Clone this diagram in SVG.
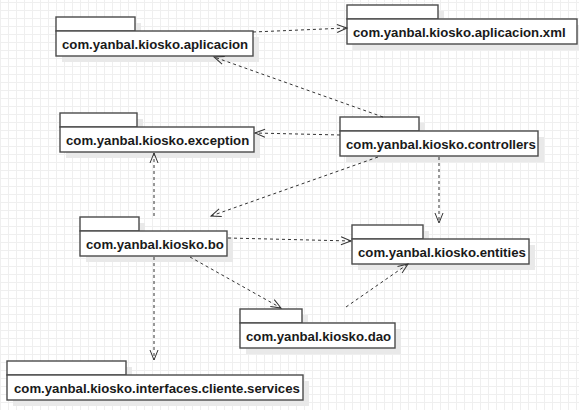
<svg xmlns="http://www.w3.org/2000/svg" width="579" height="410" viewBox="0 0 579 410">
<defs>
<pattern id="grid" width="8" height="8" patternUnits="userSpaceOnUse" x="0" y="2">
<rect width="8" height="8" fill="#ffffff"/>
<path d="M0.5,0 V8 M0,0.5 H8" stroke="#efefef" stroke-width="1" fill="none"/>
</pattern>
<marker id="open" markerUnits="userSpaceOnUse" markerWidth="12" markerHeight="10" refX="10" refY="4" orient="auto" overflow="visible">
<path d="M0,0 L10,4 L0,8" fill="none" stroke="#333" stroke-width="1"/>
</marker>
</defs>
<style>
.shadow{fill:#e9e9e9;}
.tab,.body{fill:#ffffff;stroke:#4a4a4a;stroke-width:1.4;}
.lbl{font-family:"Liberation Sans",Arial,sans-serif;font-weight:bold;font-size:13.2px;fill:#1a1a1a;}
.dep{fill:none;stroke:#333;stroke-width:1;stroke-dasharray:3,3;marker-end:url(#open);}
</style>
<rect width="579" height="410" fill="url(#grid)"/>

<g id="pkg-aplicacion">
<rect class="shadow" x="62" y="23" width="79" height="14"/>
<rect class="shadow" x="62" y="37" width="197" height="25"/>
<rect class="tab" x="56" y="17" width="79" height="14"/>
<rect class="body" x="56" y="31" width="197" height="25"/>
<text class="lbl" x="62" y="49">com.yanbal.kiosko.aplicacion</text>
</g>

<g id="pkg-aplicacion-xml">
<rect class="shadow" x="353" y="11" width="91" height="14"/>
<rect class="shadow" x="353" y="25" width="230" height="25"/>
<rect class="tab" x="347" y="5" width="91" height="14"/>
<rect class="body" x="347" y="19" width="230" height="25"/>
<text class="lbl" x="353" y="37">com.yanbal.kiosko.aplicacion.xml</text>
</g>

<g id="pkg-exception">
<rect class="shadow" x="66" y="119" width="77" height="14"/>
<rect class="shadow" x="66" y="133" width="194" height="25"/>
<rect class="tab" x="60" y="113" width="77" height="14"/>
<rect class="body" x="60" y="127" width="194" height="25"/>
<text class="lbl" x="66" y="145">com.yanbal.kiosko.exception</text>
</g>

<g id="pkg-controllers">
<rect class="shadow" x="346" y="123" width="79" height="14"/>
<rect class="shadow" x="346" y="137" width="198" height="25"/>
<rect class="tab" x="340" y="117" width="79" height="14"/>
<rect class="body" x="340" y="131" width="198" height="25"/>
<text class="lbl" x="346" y="149">com.yanbal.kiosko.controllers</text>
</g>

<g id="pkg-bo">
<rect class="shadow" x="86" y="223" width="59" height="14"/>
<rect class="shadow" x="86" y="237" width="147" height="25"/>
<rect class="tab" x="80" y="217" width="59" height="14"/>
<rect class="body" x="80" y="231" width="147" height="25"/>
<text class="lbl" x="86" y="249">com.yanbal.kiosko.bo</text>
</g>

<g id="pkg-entities">
<rect class="shadow" x="358" y="231" width="71" height="14"/>
<rect class="shadow" x="358" y="245" width="177" height="25"/>
<rect class="tab" x="352" y="225" width="71" height="14"/>
<rect class="body" x="352" y="239" width="177" height="25"/>
<text class="lbl" x="358" y="257">com.yanbal.kiosko.entities</text>
</g>

<g id="pkg-dao">
<rect class="shadow" x="246" y="315" width="62" height="14"/>
<rect class="shadow" x="246" y="329" width="155" height="25"/>
<rect class="tab" x="240" y="309" width="62" height="14"/>
<rect class="body" x="240" y="323" width="155" height="25"/>
<text class="lbl" x="246" y="341">com.yanbal.kiosko.dao</text>
</g>

<g id="pkg-services">
<rect class="shadow" x="13" y="367" width="119" height="14"/>
<rect class="shadow" x="13" y="381" width="296" height="25"/>
<rect class="tab" x="7" y="361" width="119" height="14"/>
<rect class="body" x="7" y="375" width="296" height="25"/>
<text class="lbl" x="14" y="393">com.yanbal.kiosko.interfaces.cliente.services</text>
</g>

<g id="connectors">
<line class="dep" x1="253" y1="32" x2="347" y2="28"/>
<line class="dep" x1="383" y1="117" x2="214" y2="57"/>
<line class="dep" x1="340" y1="135" x2="255" y2="133"/>
<line class="dep" x1="439" y1="157" x2="439" y2="223"/>
<line class="dep" x1="378" y1="157" x2="211" y2="216"/>
<line class="dep" x1="154" y1="216" x2="154" y2="153"/>
<line class="dep" x1="228" y1="238" x2="351" y2="241"/>
<line class="dep" x1="190" y1="257" x2="281" y2="308"/>
<line class="dep" x1="154" y1="257" x2="154" y2="360"/>
<line class="dep" x1="346" y1="307" x2="408" y2="264"/>
</g>
</svg>
